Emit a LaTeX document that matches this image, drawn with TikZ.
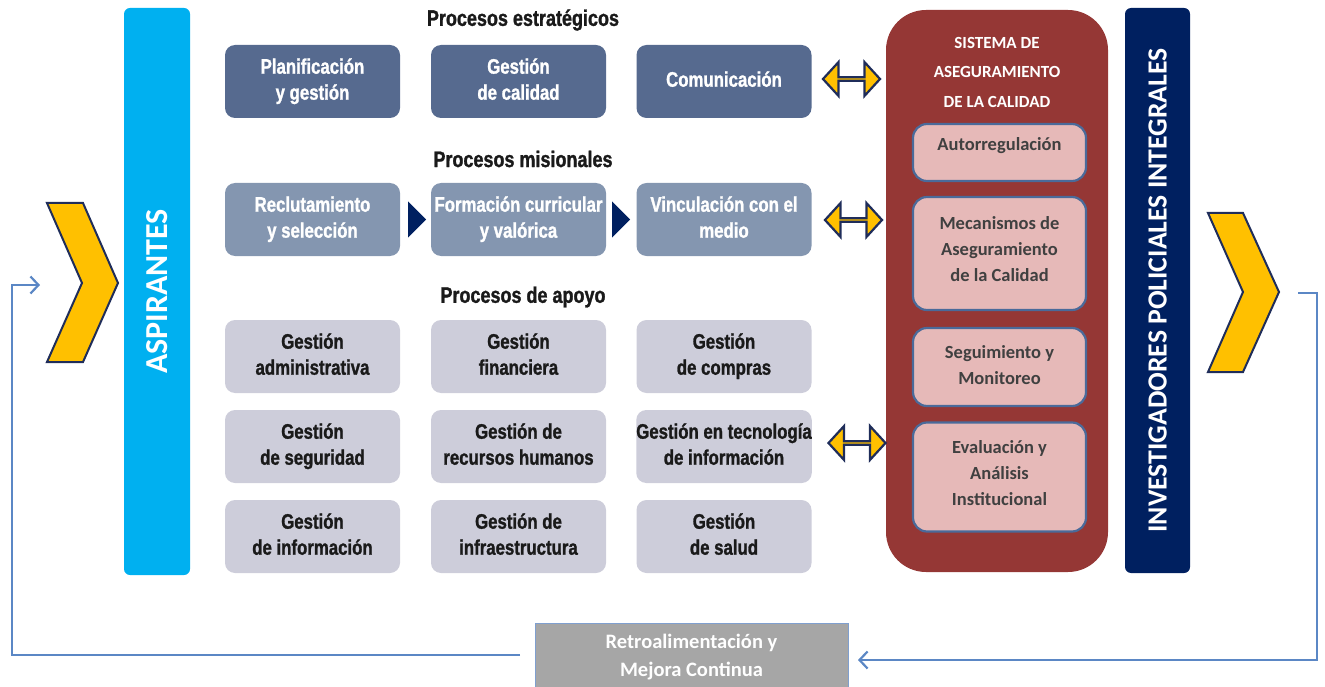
\documentclass[tikz,border=0pt]{standalone}
\usepackage{fontspec}
\setmainfont{Liberation Sans}
\newfontfamily\condf[FakeStretch=0.8,FakeBold=1.2]{Liberation Sans}
\newfontfamily\calib{Carlito}
\usetikzlibrary{shapes.arrows,arrows.meta,calc}
\definecolor{aspblue}{HTML}{00B0F0}
\definecolor{navy}{HTML}{002060}
\definecolor{chevfill}{HTML}{FFC000}
\definecolor{chevline}{HTML}{1F2D5A}
\definecolor{estrat}{HTML}{566A8F}
\definecolor{misio}{HTML}{8496B0}
\definecolor{apoyo}{HTML}{CDCDDA}
\definecolor{darktxt}{HTML}{1A1A1A}
\definecolor{sacred}{HTML}{953735}
\definecolor{pink}{HTML}{E6B9B8}
\definecolor{pinkline}{HTML}{4A6A9A}
\definecolor{pinktxt}{HTML}{404040}
\definecolor{fbgray}{HTML}{A6A6A6}
\definecolor{fbline}{HTML}{7F9FCF}
\definecolor{loopline}{HTML}{5B87C5}
\newcommand\bx[1]{\strut #1\strut}
\begin{document}
\begin{tikzpicture}[x=1pt,y=-1pt,
  procbox/.style={rounded corners=10pt, minimum width=175pt, minimum height=73pt, inner sep=0pt, align=center, font=\condf\bfseries\fontsize{21}{26}\selectfont},
  estbox/.style={procbox, fill=estrat, text=white},
  misbox/.style={procbox, fill=misio, text=white},
  apobox/.style={procbox, fill=apoyo, text=darktxt},
  heading/.style={font=\condf\bfseries\fontsize{22.5}{24}\selectfont, text=darktxt, inner sep=0pt},
  chev/.style={fill=chevfill, draw=chevline, line width=2pt, line join=miter},
  dblarrow/.style={double arrow, fill=chevfill, draw=chevline, line width=2.2pt, minimum height=57pt, minimum width=34pt, double arrow head extend=9.5pt, inner sep=0pt, double arrow tip angle=95},
  pinkbox/.style={fill=pink, draw=pinkline, line width=2.2pt, rounded corners=14pt, minimum width=173pt, inner sep=0pt},
  pinktext/.style={font=\calib\bfseries\fontsize{18.5}{26}\selectfont, text=pinktxt, align=center, inner sep=0pt},
  bar/.style={rotate=90, rounded corners=6pt, inner sep=0pt, text=white},
  tri/.style={fill=navy},
  loop/.style={draw=loopline, line width=2.4pt, -{Straight Barb[length=8pt,width=17pt,line width=2.2pt]}}
]
\useasboundingbox (0,0) rectangle (1325,687);

% chevrons
\draw[chev] (47,203) -- (83,203) -- (118,283) -- (83,362) -- (47,362) -- (82,283) -- cycle;
\draw[chev] (1208,213) -- (1243,213) -- (1279,292) -- (1243,372) -- (1208,372) -- (1243,292) -- cycle;

% side bars
\node[bar, fill=aspblue, minimum width=567pt, minimum height=66pt, font=\calib\bfseries\fontsize{32}{32}\selectfont] (asp) at (157,291.5) {ASPIRANTES};
\node[bar, fill=navy, minimum width=565pt, minimum height=65pt, font=\calib\bfseries\fontsize{27.7}{28}\selectfont] (inv) at (1157.5,290.5) {INVESTIGADORES POLICIALES INTEGRALES};

% headings
\node[heading] (hest) at (523,20) {Procesos estratégicos};
\node[heading] (hmis) at (523,159) {Procesos misionales};
\node[heading] (hapo) at (523,297) {Procesos de apoyo};

% strategic
\node[estbox] (e1) at (312.5,81.5) {\bx{Planificación\\y gestión}};
\node[estbox] (e2) at (518.5,81.5) {\bx{Gestión\\de calidad}};
\node[estbox] (e3) at (724,81.5) {\bx{Comunicación}};

% missional
\node[misbox] (m1) at (312.5,219.5) {\bx{Reclutamiento\\y selección}};
\node[misbox] (m2) at (518.5,219.5) {\bx{Formación curricular\\y valórica}};
\node[misbox] (m3) at (724,219.5) {\bx{Vinculación con el\\medio}};
\fill[tri] ($(m1.east)+(8,-18)$) -- ($(m1.east)+(26,0)$) -- ($(m1.east)+(8,18)$) -- cycle;
\fill[tri] ($(m2.east)+(6,-18)$) -- ($(m2.east)+(24,0)$) -- ($(m2.east)+(6,18)$) -- cycle;

% support
\node[apobox] (a1) at (312.5,356.5) {\bx{Gestión\\administrativa}};
\node[apobox] (a2) at (518.5,356.5) {\bx{Gestión\\financiera}};
\node[apobox] (a3) at (724,356.5) {\bx{Gestión\\de compras}};
\node[apobox] (a4) at (312.5,446.5) {\bx{Gestión\\de seguridad}};
\node[apobox] (a5) at (518.5,446.5) {\bx{Gestión de\\recursos humanos}};
\node[apobox] (a6) at (724,446.5) {\bx{Gestión en tecnología\\de información}};
\node[apobox] (a7) at (312.5,536.5) {\bx{Gestión\\de información}};
\node[apobox] (a8) at (518.5,536.5) {\bx{Gestión de\\infraestructura}};
\node[apobox] (a9) at (724,536.5) {\bx{Gestión\\de salud}};

% quality system
\node[fill=sacred, rounded corners=40pt, minimum width=222pt, minimum height=562pt, inner sep=0pt] (sac) at (997,291) {};
\node[font=\calib\bfseries\fontsize{17}{29.5}\selectfont, text=white, align=center, inner sep=0pt] (sactitle) at (997,72) {SISTEMA DE\\ASEGURAMIENTO\\DE LA CALIDAD};
\node[pinkbox, minimum height=57pt] (p1) at (999.5,152.5) {};
\node[pinktext] at (999.5,146) {Autorregulación};
\node[pinkbox, minimum height=113pt] (p2) at (999.5,253.5) {};
\node[pinktext] at (999.5,249.5) {Mecanismos de\\Aseguramiento\\de la Calidad};
\node[pinkbox, minimum height=78pt] (p3) at (999.5,367) {};
\node[pinktext] at (999.5,365) {Seguimiento y\\Monitoreo};
\node[pinkbox, minimum height=109pt] (p4) at (999.5,477) {};
\node[pinktext] at (999.5,473.5) {Evaluación y\\Análisis\\Institucional};

% double arrows
\node[dblarrow] (d1) at (851.5,79) {};
\node[dblarrow] (d2) at (853.5,220) {};
\node[dblarrow] (d3) at (857,443) {};

% feedback
\node[fill=fbgray, draw=fbline, line width=1pt, minimum width=313pt, minimum height=68pt, inner sep=0pt, text=white, align=center, font=\calib\bfseries\fontsize{20.5}{28}\selectfont] (fb) at (691.5,657) {Retroalimentación y\\Mejora Continua};
\coordinate (rstart) at (1298,293);
\coordinate (rcorner1) at (1317,293);
\coordinate (rcorner2) at (1317,660);
\coordinate (rend) at (858,660);
\coordinate (lstart) at (520,655);
\coordinate (lcorner1) at (12,655);
\coordinate (lcorner2) at (12,285);
\coordinate (lend) at (40,285);
\draw[loop] (rstart) -- (rcorner1) -- (rcorner2) -- (rend);
\draw[loop] (lstart) -- (lcorner1) -- (lcorner2) -- (lend);
\end{tikzpicture}
\end{document}
